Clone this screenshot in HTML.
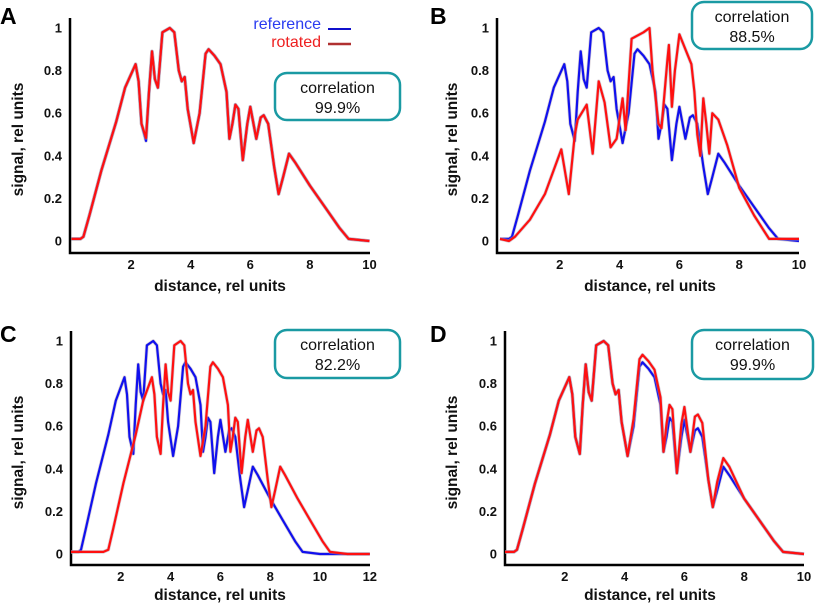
<!DOCTYPE html>
<html><head><meta charset="utf-8"><style>
html,body{margin:0;padding:0;background:#fff;}
svg{display:block;font-family:"Liberation Sans",Arial,sans-serif;}
.t{font-size:13px;font-weight:bold;fill:#111;}
.ax{font-size:15.5px;font-weight:bold;fill:#111;}
.L{font-size:23px;font-weight:bold;fill:#000;}
.c{font-size:16px;fill:#111;}
</style></head><body>
<svg id="s" width="818" height="604" viewBox="0 0 818 604" xmlns="http://www.w3.org/2000/svg"></svg>
<script>
var ref=[[0,0.01],[0.3,0.01],[0.4,0.02],[0.6,0.12],[1,0.33],[1.5,0.56],[1.8,0.72],[2.15,0.83],[2.25,0.75],[2.35,0.55],[2.5,0.47],[2.6,0.7],[2.7,0.89],[2.8,0.76],[2.9,0.72],[3.05,0.98],[3.3,1.0],[3.45,0.98],[3.6,0.8],[3.7,0.75],[3.8,0.77],[3.9,0.62],[4.1,0.46],[4.3,0.6],[4.5,0.88],[4.6,0.9],[4.8,0.87],[5.0,0.83],[5.2,0.7],[5.3,0.48],[5.4,0.55],[5.5,0.64],[5.6,0.62],[5.75,0.38],[5.9,0.55],[6.0,0.63],[6.2,0.48],[6.35,0.58],[6.45,0.59],[6.6,0.55],[6.8,0.35],[6.95,0.22],[7.1,0.3],[7.3,0.41],[7.5,0.37],[8,0.26],[8.5,0.16],[9,0.06],[9.3,0.01],[10,0.0]];
var redA=ref.map(function(p){return [p[0],p[1]*(p[0]>2.4&&p[0]<2.6?1.03:1)];});
var redD=ref.map(function(p){var x=p[0],y=p[1];if(x>=4.3&&x<=5.2)y+=0.035;if(x>=5.4&&x<=5.6)y+=0.06;if(x>=5.9&&x<=6.0)y+=0.06;if(x>=6.3&&x<=6.6)y+=0.065;if(x>=7.1&&x<=7.6)y+=0.04;return [x,y];});
var redB=[[0,0.01],[0.3,0],[0.5,0.02],[1,0.1],[1.5,0.22],[2.05,0.43],[2.3,0.22],[2.5,0.5],[2.6,0.57],[2.9,0.64],[3.1,0.41],[3.3,0.75],[3.5,0.65],[3.7,0.44],[3.9,0.48],[4.1,0.67],[4.2,0.52],[4.4,0.95],[4.8,0.98],[5.0,1.0],[5.1,0.8],[5.3,0.55],[5.4,0.53],[5.6,0.85],[5.65,0.92],[5.75,0.63],[5.85,0.8],[6.0,0.97],[6.2,0.9],[6.4,0.83],[6.5,0.7],[6.6,0.5],[6.7,0.4],[6.8,0.67],[6.9,0.55],[7.0,0.41],[7.1,0.6],[7.3,0.57],[7.6,0.45],[8.0,0.25],[8.5,0.12],[9.0,0.01],[10,0.01]];
var redC=[[0,0.01],[1.3,0.01]].concat(ref.slice(2).map(function(p){return [p[0]+1.1,p[1]];})).concat([[12,0.0]]);
var refC=ref.concat([[12,0]]);
var P=[
 {L:"A",lx:0,ly:24,ax:70,x0:71.5,u:29.8,y0:241,y1:28,xa:253,xmax:10,xend:370,box:[275,73,125,47,"99.9%"],ser:[ref,redA],leg:true,ylx:18,xlx:220,xly:291},
 {L:"B",lx:430,ly:24,ax:497,x0:500,u:29.9,y0:241,y1:28,xa:253,xmax:10,xend:799,box:[692,2,120,47,"88.5%"],ser:[ref,redB],ylx:452,xlx:650,xly:291},
 {L:"C",lx:0,ly:342,ax:71,x0:71,u:24.9,y0:554,y1:341,xa:565,xmax:12,xend:370,box:[275,330,125,48,"82.2%"],ser:[refC,redC],ylx:18,xlx:220,xly:600},
 {L:"D",lx:430,ly:342,ax:505,x0:505,u:29.9,y0:554,y1:341,xa:565,xmax:10,xend:804,box:[692,330,121,49,"99.9%"],ser:[ref,redD],ylx:452,xlx:650,xly:600}
];
var h="";
P.forEach(function(p){
 var k=p.y0-p.y1;
 function X(x){return p.x0+x*p.u;}function Y(y){return p.y0-y*k;}
 h+='<text class="L" x="'+p.lx+'" y="'+p.ly+'">'+p.L+'</text>';
 h+='<path d="M'+p.ax+' '+(p.y1-10)+'V'+p.xa+'H'+p.xend+'" stroke="#000" stroke-width="2.5" fill="none"/>';
 for(var i=0;i<=5;i++){var v=i*0.2;h+='<text class="t" x="'+(p.ax-8)+'" y="'+(Y(v)+4.5)+'" text-anchor="end">'+(i==0?"0":i==5?"1":v.toFixed(1))+'</text>';}
 for(var x=2;x<=p.xmax;x+=2){h+='<text class="t" x="'+X(x)+'" y="'+(p.xa+16)+'" text-anchor="middle">'+x+'</text>';}
 h+='<text class="ax" x="'+p.xlx+'" y="'+p.xly+'" text-anchor="middle">distance, rel units</text>';
 var yc=(p.y0+p.y1)/2+5;
 h+='<text class="ax" transform="translate('+p.ylx+','+yc+') rotate(-90)" text-anchor="middle" dy="5">signal, rel units</text>';
 var b=p.box;
 h+='<rect x="'+b[0]+'" y="'+b[1]+'" width="'+b[2]+'" height="'+b[3]+'" rx="12" fill="#fff" stroke="#1a9aa3" stroke-width="2.5"/>';
 h+='<text class="c" x="'+(b[0]+b[2]/2)+'" y="'+(b[1]+20)+'" text-anchor="middle">correlation</text>';
 h+='<text class="c" x="'+(b[0]+b[2]/2)+'" y="'+(b[1]+40)+'" text-anchor="middle">'+b[4]+'</text>';
 var cols=["#1010ee","#ff1010"];
 p.ser.forEach(function(s,j){
  var d=s.filter(function(q){return q[0]<=p.xmax;}).map(function(q,i){return (i?"L":"M")+X(q[0]).toFixed(1)+" "+Y(q[1]).toFixed(1);}).join("");
  h+='<path d="'+d+'" stroke="#b0a0b0" stroke-width="3.6" fill="none" opacity="0.5" stroke-linejoin="round"/>';
  h+='<path d="'+d+'" stroke="'+cols[j]+'" stroke-width="2.2" fill="none" stroke-linejoin="round"/>';
 });
 if(p.leg){
  h+='<text x="321" y="29" text-anchor="end" style="font-size:16px;fill:#2a3cf0">reference</text>';
  h+='<text x="321" y="47" text-anchor="end" style="font-size:16px;fill:#ee2020">rotated</text>';
  h+='<path d="M328 29H351" stroke="#1010cc" stroke-width="2"/>';
  h+='<path d="M328 44H351" stroke="#b03030" stroke-width="2.5"/>';
 }
});
document.getElementById("s").innerHTML=h;
</script>
</body></html>
